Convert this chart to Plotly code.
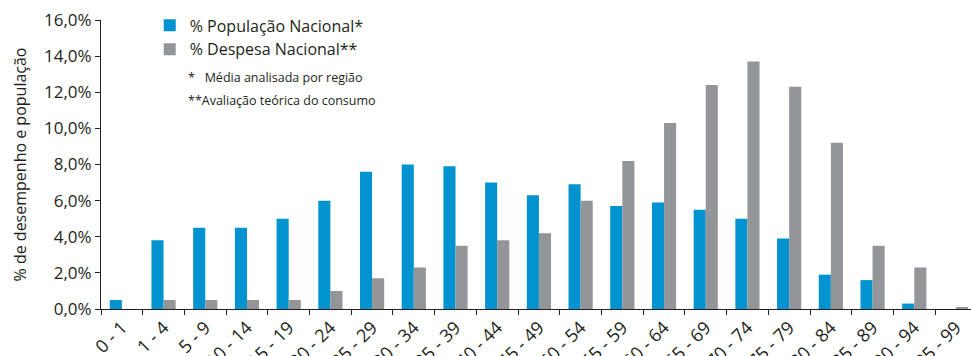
import plotly.graph_objects as go

categories = ["0 - 1", "1 - 4", "5 - 9", "10 - 14", "15 - 19", "20 - 24", "25 - 29", "30 - 34",
              "35 - 39", "40 - 44", "45 - 49", "50 - 54", "55 - 59", "60 - 64", "65 - 69",
              "70 - 74", "75 - 79", "80 - 84", "85 - 89", "90 - 94", "95 - 99"]
populacao = [0.5, 3.8, 4.5, 4.5, 5.0, 6.0, 7.6, 8.0, 7.9, 7.0, 6.3, 6.9, 5.7, 5.9, 5.5,
             5.0, 3.9, 1.9, 1.6, 0.3, 0.0]
despesa = [0.0, 0.5, 0.5, 0.5, 0.5, 1.0, 1.7, 2.3, 3.5, 3.8, 4.2, 6.0, 8.2, 10.3, 12.4,
           13.7, 12.3, 9.2, 3.5, 2.3, 0.1]
y_ticks = [0, 2, 4, 6, 8, 10, 12, 14, 16]
y_labels = ["0,0%", "2,0%", "4,0%", "6,0%", "8,0%", "10,0%", "12,0%", "14,0%", "16,0%"]
notes = ["*   Média analisada por região", "**Avaliação teórica do consumo"]

FONT = "Open Sans"
TXT = "#231f20"
L, T, W, H = 101, 20, 870, 289  # plot area in pixels

fig = go.Figure()
fig.add_trace(go.Bar(x=categories, y=populacao, name="% População Nacional*",
                     marker=dict(color="#0093d0", line=dict(width=0))))
fig.add_trace(go.Bar(x=categories, y=despesa, name="% Despesa Nacional**",
                     marker=dict(color="#939598", line=dict(width=0))))

fig.update_layout(
    width=971, height=356,
    margin=dict(l=L, r=971 - L - W, t=T, b=356 - T - H),
    paper_bgcolor="white", plot_bgcolor="white",
    barmode="group", bargap=0.42, bargroupgap=0,
    font=dict(family=FONT, color=TXT, size=16),
    showlegend=True,
    legend=dict(x=0.056, y=1.04, xanchor="left", yanchor="top",
                font=dict(size=16, color=TXT), bgcolor="rgba(0,0,0,0)",
                itemsizing="constant", tracegroupgap=0),
    xaxis=dict(type="category", range=[-0.5, 20.36], automargin=False,
               showline=True, linecolor=TXT, linewidth=1,
               ticks="outside", tickson="boundaries", ticklen=5, tickcolor=TXT,
               tickangle=-45, tickfont=dict(size=18, color=TXT), showgrid=False),
    yaxis=dict(range=[0, 16], tickvals=y_ticks, ticktext=y_labels, automargin=False,
               showline=True, linecolor=TXT, linewidth=1, ticks="outside", ticklen=5,
               tickcolor=TXT, showgrid=False, zeroline=False,
               tickfont=dict(size=17, color=TXT),
               title=dict(text="% de desempenho e população", font=dict(size=16, color=TXT),
                          standoff=13)),
)

for text, py in zip(notes, [77, 101]):
    fig.add_annotation(x=(186 - L) / W, y=(T + H - py) / H, xref="paper", yref="paper",
                       text=text, showarrow=False, xanchor="left", yanchor="middle",
                       font=dict(size=12.5, color=TXT))

fig.write_html("out.html")
